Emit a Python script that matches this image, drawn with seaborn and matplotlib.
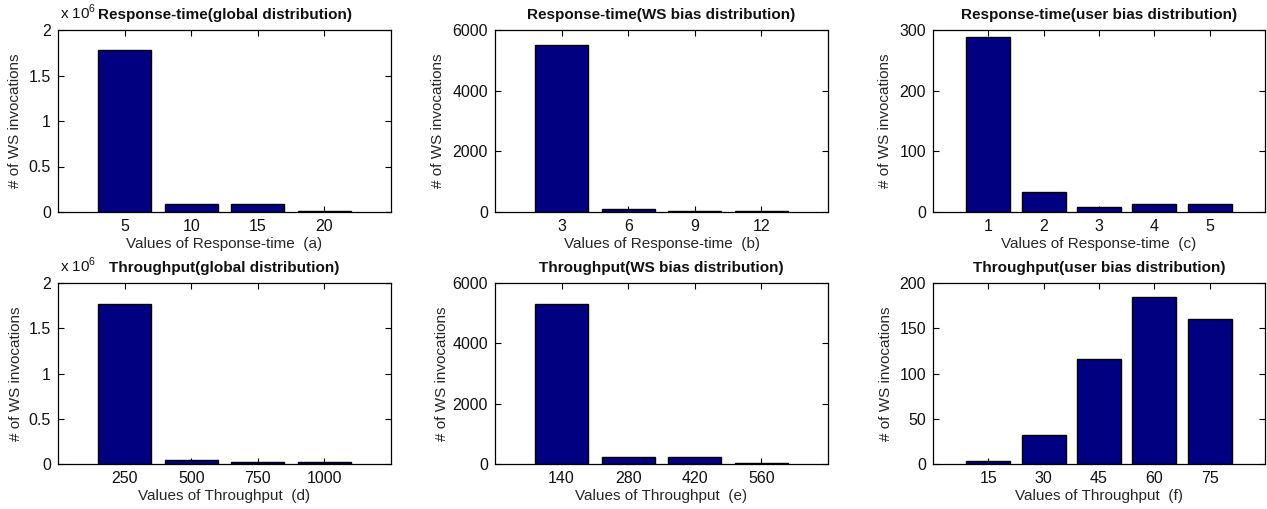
import matplotlib
matplotlib.use("Agg")
import matplotlib.pyplot as plt
import seaborn as sns
from matplotlib.ticker import FuncFormatter

# Values
rt_global_labels = ["5", "10", "15", "20"]
rt_global_counts = [1.785e6, 0.09e6, 0.09e6, 0.015e6]

rt_ws_labels = ["3", "6", "9", "12"]
rt_ws_counts = [5520, 115, 30, 30]

rt_user_labels = ["1", "2", "3", "4", "5"]
rt_user_counts = [289, 33, 8, 13, 13]

tp_global_labels = ["250", "500", "750", "1000"]
tp_global_counts = [1.77e6, 0.048e6, 0.022e6, 0.022e6]

tp_ws_labels = ["140", "280", "420", "560"]
tp_ws_counts = [5300, 220, 220, 33]

tp_user_labels = ["15", "30", "45", "60", "75"]
tp_user_counts = [3.7, 31.5, 116, 184, 160]

sns.set_style("ticks")
plt.rcParams['font.family'] = ['Liberation Sans', 'DejaVu Sans']
plt.rcParams['mathtext.fontset'] = 'custom'
plt.rcParams['mathtext.rm'] = 'Liberation Sans'
plt.rcParams['text.color'] = '#111111'

panels = [
    (rt_global_labels, rt_global_counts, "Response-time(global distribution)",
     "Values of Response-time  (a)", [0, 0.5e6, 1e6, 1.5e6, 2e6], True),
    (rt_ws_labels, rt_ws_counts, "Response-time(WS bias distribution)",
     "Values of Response-time  (b)", [0, 2000, 4000, 6000], False),
    (rt_user_labels, rt_user_counts, "Response-time(user bias distribution)",
     "Values of Response-time  (c)", [0, 100, 200, 300], False),
    (tp_global_labels, tp_global_counts, "Throughput(global distribution)",
     "Values of Throughput  (d)", [0, 0.5e6, 1e6, 1.5e6, 2e6], True),
    (tp_ws_labels, tp_ws_counts, "Throughput(WS bias distribution)",
     "Values of Throughput  (e)", [0, 2000, 4000, 6000], False),
    (tp_user_labels, tp_user_counts, "Throughput(user bias distribution)",
     "Values of Throughput  (f)", [0, 50, 100, 150, 200], False),
]

# axes boxes in pixels (left, top, right, bottom) of a 1267x509 canvas
W, H = 1267, 509
lefts = [58, 495, 933]
rights = [391, 828, 1265]
rows = [(30, 212), (283, 464)]
ylabel_x = [-0.108, -0.150, -0.123, -0.105, -0.138, -0.120]

fig = plt.figure(figsize=(12.67, 5.09), dpi=100)

for i, (labels, counts, title, xlabel, yticks, sci) in enumerate(panels):
    r, c = divmod(i, 3)
    top, bot = rows[r]
    ax = fig.add_axes([lefts[c] / W, (H - bot) / H,
                       (rights[c] - lefts[c]) / W, (bot - top) / H])
    sns.barplot(x=labels, y=counts, color="#000080", saturation=1,
                edgecolor="black", linewidth=1, width=0.8, ax=ax)
    ax.set_xlim(-1, len(labels))
    ax.set_ylim(0, yticks[-1])
    ax.set_yticks(yticks)
    if sci:
        ax.yaxis.set_major_formatter(FuncFormatter(lambda v, p: f"{v / 1e6:g}"))
        ax.text(0.005, 1.06, r"x 10$^{6}$", transform=ax.transAxes,
                fontsize=11, va="baseline", ha="left")
    ax.tick_params(direction="in", top=True, right=True, length=4,
                   width=0.8, labelsize=11.5, pad=5, colors="black",
                   labelcolor="#111111")
    for s in ax.spines.values():
        s.set_visible(True)
        s.set_linewidth(0.9)
        s.set_color("black")
    ax.set_title(title, fontsize=11, fontweight="bold", pad=8)
    ax.set_xlabel(xlabel, fontsize=11, labelpad=2)
    ax.set_ylabel("# of WS invocations", fontsize=11)
    ax.yaxis.set_label_coords(ylabel_x[i], 0.5)

fig.savefig("out.png", dpi=100)
